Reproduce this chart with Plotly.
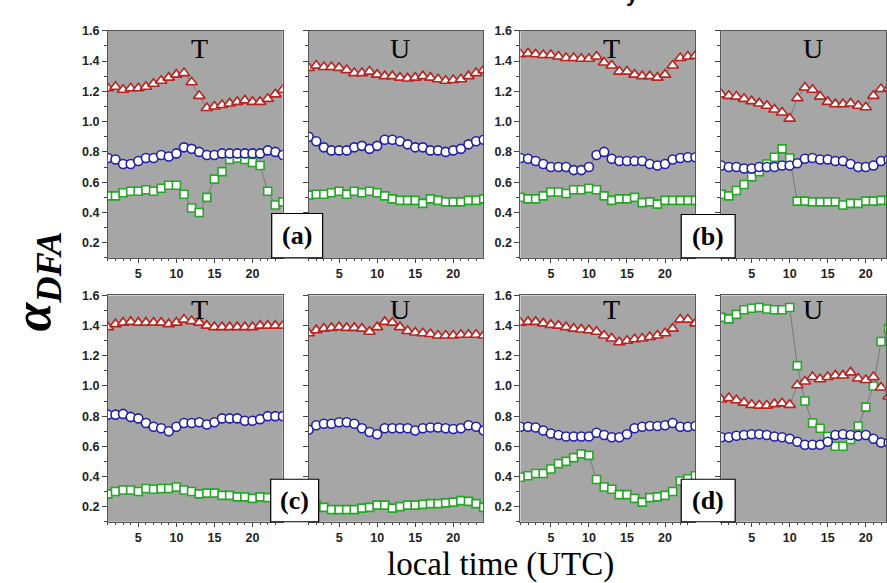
import plotly.graph_objects as go

hours = list(range(1, 25))

# panel (a)
aT_tri = [1.22,1.23,1.21,1.22,1.22,1.23,1.25,1.27,1.29,1.31,1.32,1.26,1.17,1.09,1.10,1.11,1.12,1.13,1.14,1.13,1.13,1.15,1.18,1.21]
aT_circ = [0.76,0.75,0.72,0.72,0.74,0.76,0.76,0.78,0.77,0.79,0.83,0.82,0.80,0.78,0.78,0.79,0.79,0.79,0.79,0.79,0.79,0.81,0.80,0.78]
aT_sq = [0.51,0.51,0.53,0.54,0.54,0.55,0.54,0.56,0.58,0.58,0.52,0.43,0.40,0.50,0.62,0.67,0.75,0.76,0.75,0.73,0.71,0.54,0.45,0.47]
aU_tri = [1.355,1.37,1.36,1.36,1.355,1.34,1.32,1.32,1.33,1.31,1.30,1.30,1.29,1.285,1.29,1.30,1.29,1.28,1.27,1.275,1.28,1.30,1.32,1.34]
aU_circ = [0.90,0.87,0.83,0.81,0.81,0.81,0.83,0.84,0.82,0.84,0.88,0.88,0.87,0.85,0.83,0.83,0.81,0.81,0.80,0.81,0.82,0.85,0.87,0.88]
aU_sq = [0.515,0.52,0.52,0.53,0.54,0.52,0.54,0.53,0.54,0.53,0.51,0.49,0.48,0.48,0.48,0.46,0.49,0.48,0.47,0.47,0.47,0.48,0.48,0.49]

# panel (b)
bT_tri = [1.445,1.45,1.445,1.44,1.44,1.43,1.42,1.42,1.415,1.415,1.43,1.39,1.37,1.33,1.33,1.31,1.30,1.30,1.29,1.31,1.37,1.42,1.43,1.435]
bT_circ = [0.76,0.755,0.74,0.72,0.70,0.70,0.70,0.68,0.68,0.70,0.78,0.80,0.755,0.74,0.74,0.74,0.74,0.72,0.71,0.72,0.75,0.76,0.765,0.765]
bT_sq = [0.50,0.49,0.49,0.51,0.535,0.535,0.525,0.55,0.55,0.56,0.55,0.51,0.48,0.49,0.49,0.50,0.465,0.47,0.455,0.48,0.48,0.48,0.48,0.48]
bU_tri = [1.18,1.17,1.165,1.15,1.135,1.12,1.105,1.08,1.06,1.02,1.155,1.225,1.21,1.165,1.13,1.115,1.115,1.12,1.105,1.095,1.17,1.215,1.22,1.22]
bU_circ = [0.71,0.70,0.70,0.69,0.69,0.70,0.70,0.70,0.71,0.71,0.725,0.755,0.76,0.75,0.75,0.74,0.74,0.72,0.70,0.70,0.71,0.74,0.75,0.76]
bU_sq = [0.52,0.51,0.545,0.585,0.635,0.67,0.72,0.765,0.82,0.76,0.475,0.475,0.47,0.47,0.47,0.47,0.45,0.46,0.46,0.475,0.475,0.48,0.48,0.48]

# panel (c)
cT_tri = [1.39,1.41,1.42,1.425,1.42,1.42,1.42,1.42,1.41,1.42,1.44,1.43,1.42,1.40,1.39,1.39,1.39,1.39,1.39,1.39,1.40,1.40,1.40,1.40]
cT_circ = [0.81,0.81,0.815,0.795,0.785,0.755,0.73,0.72,0.70,0.73,0.755,0.755,0.76,0.745,0.76,0.785,0.785,0.785,0.77,0.77,0.78,0.80,0.80,0.80]
cT_sq = [0.285,0.30,0.31,0.31,0.30,0.32,0.315,0.32,0.32,0.33,0.31,0.30,0.285,0.29,0.29,0.275,0.275,0.265,0.265,0.255,0.265,0.26,0.26,0.255]
cU_tri = [1.35,1.37,1.38,1.385,1.39,1.385,1.385,1.38,1.36,1.39,1.425,1.42,1.39,1.365,1.355,1.35,1.345,1.335,1.335,1.335,1.34,1.34,1.34,1.335]
cU_circ = [0.71,0.74,0.75,0.75,0.76,0.76,0.75,0.72,0.695,0.68,0.72,0.72,0.72,0.72,0.705,0.72,0.725,0.725,0.72,0.715,0.72,0.74,0.73,0.705]
cU_sq = [0.215,0.21,0.195,0.18,0.18,0.18,0.18,0.19,0.195,0.21,0.21,0.19,0.20,0.21,0.21,0.215,0.22,0.22,0.225,0.23,0.24,0.235,0.22,0.195]

# panel (d)
dT_tri = [1.42,1.425,1.425,1.415,1.405,1.40,1.39,1.38,1.375,1.37,1.36,1.335,1.315,1.29,1.30,1.31,1.315,1.325,1.335,1.35,1.38,1.44,1.44,1.415]
dT_circ = [0.73,0.73,0.725,0.705,0.685,0.675,0.665,0.665,0.665,0.665,0.69,0.675,0.66,0.66,0.68,0.72,0.73,0.735,0.735,0.74,0.755,0.73,0.73,0.735]
dT_sq = [0.395,0.405,0.42,0.42,0.45,0.485,0.50,0.525,0.55,0.54,0.38,0.33,0.315,0.28,0.28,0.255,0.23,0.26,0.265,0.275,0.30,0.37,0.385,0.405]
dU_tri = [0.91,0.92,0.905,0.89,0.875,0.87,0.87,0.88,0.885,0.875,1.005,1.03,1.06,1.045,1.06,1.07,1.07,1.09,1.05,1.04,1.06,0.99,0.93,0.93]
dU_circ = [0.66,0.66,0.67,0.675,0.68,0.68,0.675,0.665,0.66,0.65,0.63,0.61,0.61,0.61,0.63,0.675,0.68,0.675,0.67,0.675,0.65,0.625,0.625,0.63]
dU_sq = [1.455,1.445,1.475,1.505,1.515,1.52,1.51,1.505,1.505,1.52,1.135,0.90,0.755,0.72,0.665,0.60,0.60,0.645,0.735,0.86,1.0,1.295,1.38,1.45]

panel_titles = ["T", "U", "T", "U", "T", "U", "T", "U"]
panel_labels = ["(a)", "(b)", "(c)", "(d)"]
y_ticks = [0.2, 0.4, 0.6, 0.8, 1.0, 1.2, 1.4, 1.6]
x_ticks = [5, 10, 15, 20]

panels = [
    (aT_tri, aT_circ, aT_sq), (aU_tri, aU_circ, aU_sq),
    (bT_tri, bT_circ, bT_sq), (bU_tri, bU_circ, bU_sq),
    (cT_tri, cT_circ, cT_sq), (cU_tri, cU_circ, cU_sq),
    (dT_tri, dT_circ, dT_sq), (dU_tri, dU_circ, dU_sq),
]

W, H = 887, 583
col_px = [(108, 283), (309, 484), (521, 696), (722, 887)]
row_px = [(24, 254), (292, 521)]
PX_PER_HOUR = 7.62

BG = "#a6a6a6"
RED = "#b8231f"
BLUE = "#1f1fa8"
GREEN = "#26a626"
LINE = "#6e6e6e"

fig = go.Figure()
layout = dict(
    width=W, height=H,
    margin=dict(l=0, r=0, t=0, b=0),
    paper_bgcolor="white",
    plot_bgcolor=BG,
    showlegend=False,
)

tickfont = dict(family="Liberation Sans, Arial", size=12.5, color="#222222")

annotations = []
for i, (tri, circ, sq) in enumerate(panels):
    r, c = divmod(i, 4)
    n = i + 1
    xa = "x" if n == 1 else f"x{n}"
    ya = "y" if n == 1 else f"y{n}"
    x0, x1 = col_px[c]
    y0, y1 = row_px[r]
    xmax = 1 + (x1 - x0) / PX_PER_HOUR
    for vals, sym, col, size in [(sq, "square", GREEN, 8), (circ, "circle", BLUE, 9), (tri, "triangle-up", RED, 10)]:
        fig.add_trace(go.Scatter(
            x=hours, y=vals, xaxis=xa, yaxis=ya, mode="lines+markers",
            line=dict(color=LINE, width=0.8),
            marker=dict(symbol=sym, size=size, color="white", line=dict(color=col, width=1.6)),
            hoverinfo="skip",
        ))
    layout["xaxis" if n == 1 else f"xaxis{n}"] = dict(
        domain=[x0 / W, x1 / W], anchor=ya, range=[1, xmax],
        tickvals=x_ticks, ticktext=[f"<b>{v}</b>" for v in x_ticks],
        ticks="outside", ticklen=4, tickcolor="#444",
        minor=dict(dtick=1, tick0=0, ticks="outside", ticklen=2, tickcolor="#444"),
        showgrid=False, zeroline=False, showline=True, linecolor="#555", linewidth=1, mirror=True,
        tickfont=tickfont,
    )
    layout["yaxis" if n == 1 else f"yaxis{n}"] = dict(
        domain=[1 - y1 / H, 1 - y0 / H], anchor=xa, range=[0.1, 1.6],
        tickvals=y_ticks, ticktext=[f"<b>{v:.1f}</b>" for v in y_ticks],
        ticks="outside", ticklen=5, tickcolor="#444",
        minor=dict(dtick=0.1, tick0=0, ticks="outside", ticklen=3, tickcolor="#444"),
        showgrid=False, zeroline=False, showline=True, linecolor="#555", linewidth=1, mirror=True,
        showticklabels=(c % 2 == 0), tickfont=tickfont,
    )
    # panel title T / U
    cx = (x0 + (x0 + 23 * PX_PER_HOUR)) / 2 + 4
    ty = y0 + (18 if r == 0 else 14)
    annotations.append(dict(
        text=panel_titles[i], xref="paper", yref="paper", x=cx / W, y=1 - ty / H,
        xanchor="center", yanchor="middle", showarrow=False,
        font=dict(family="Liberation Serif, Times New Roman", size=28, color="black"),
    ))

# label boxes
box_px = [(272, 323, 209, 254), (682, 736, 210, 254), (271, 319, 478, 521), (682, 736, 478, 521)]
shapes = []
for (bx0, bx1, by0, by1), lab in zip(box_px, panel_labels):
    shapes.append(dict(type="rect", xref="paper", yref="paper", x0=bx0 / W, x1=bx1 / W,
                       y0=1 - by1 / H, y1=1 - by0 / H, fillcolor="white",
                       line=dict(color="black", width=1.2), layer="above"))
    annotations.append(dict(
        text=f"<b>{lab}</b>", xref="paper", yref="paper", x=(bx0 + bx1) / 2 / W, y=1 - (by0 + by1) / 2 / H,
        xanchor="center", yanchor="middle", showarrow=False,
        font=dict(family="Liberation Serif, Times New Roman", size=26, color="black"),
    ))

# axis titles
annotations.append(dict(
    text="<b><i>α<sub>DFA</sub></i></b>", xref="paper", yref="paper", x=37 / W, y=1 - 278 / H,
    xanchor="center", yanchor="middle", showarrow=False, textangle=-90,
    font=dict(family="Liberation Serif, Times New Roman", size=52, color="black"),
))
annotations.append(dict(
    text="local time (UTC)", xref="paper", yref="paper", x=501 / W, y=1 - 564 / H,
    xanchor="center", yanchor="middle", showarrow=False,
    font=dict(family="Liberation Serif, Times New Roman", size=33, color="black"),
))
# cropped title fragment at top (only its lower part is visible in the reference)
annotations.append(dict(
    text="<b>y</b>", xref="paper", yref="paper", x=633 / W, y=1 + 14 / H,
    xanchor="center", yanchor="middle", showarrow=False,
    font=dict(family="Liberation Sans, Arial", size=22, color="black"),
))

layout["annotations"] = annotations
layout["shapes"] = shapes
fig.update_layout(**layout)

fig.write_html("out.html")
